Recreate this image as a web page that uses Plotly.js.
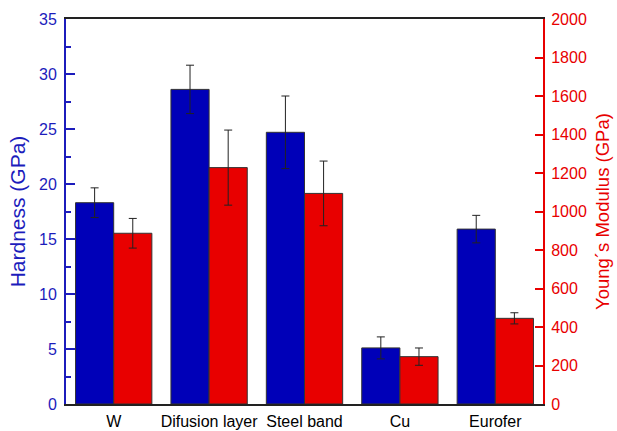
<!DOCTYPE html>
<html>
<head>
<meta charset="utf-8">
<script src="https://cdn.plot.ly/plotly-3.0.1.min.js"></script>
<style>html,body{margin:0;padding:0;background:#fff;}#chart{width:617px;height:431px;}</style>
</head>
<body>
<div id="chart"></div>
<script>
const categories = ["W", "Difusion layer", "Steel band", "Cu", "Eurofer"];
const hardness = [18.3, 28.6, 24.7, 5.1, 15.9];
const hardnessErr = [1.35, 2.2, 3.3, 1.0, 1.25];
const modulus = [887, 1228, 1094, 246, 445];
const modulusErr = [77, 195, 168, 45, 29];
const yTicks = [0, 5, 10, 15, 20, 25, 30, 35];
const y2Ticks = [0, 200, 400, 600, 800, 1000, 1200, 1400, 1600, 1800, 2000];

const idx = categories.map((c, i) => i);
const blue = "#0000b8";
const red = "#e80000";
const axisBlue = "#1c1cbc";
const font = "Liberation Sans, Arial, sans-serif";

const traces = [
  {
    type: "bar", x: idx, y: hardness, yaxis: "y", name: "Hardness",
    offset: -0.4, width: 0.4,
    marker: {color: blue, line: {color: "#333", width: 1}},
    error_y: {type: "data", array: hardnessErr, visible: true, color: "#222", thickness: 1, width: 4}
  },
  {
    type: "bar", x: idx, y: modulus, yaxis: "y2", name: "Young's Modulus",
    offset: 0, width: 0.4,
    marker: {color: red, line: {color: "#333", width: 1}},
    error_y: {type: "data", array: modulusErr, visible: true, color: "#222", thickness: 1, width: 4}
  }
];

const layout = {
  width: 617, height: 431,
  margin: {l: 66, r: 74, t: 19, b: 27},
  paper_bgcolor: "#fff", plot_bgcolor: "#fff",
  showlegend: false,
  font: {family: font, size: 16, color: "#000"},
  xaxis: {
    range: [-0.5, 4.5], tickvals: idx, ticktext: categories,
    showline: true, linecolor: "#222", linewidth: 2, mirror: true,
    ticks: "", showgrid: false, zeroline: false, automargin: false,
    ticklabelstandoff: 2,
    tickfont: {family: font, size: 16, color: "#000"}
  },
  yaxis: {
    range: [0, 35], tickvals: yTicks, showgrid: false, zeroline: false,
    showline: true, linecolor: axisBlue, linewidth: 2, automargin: false,
    ticks: "inside", ticklen: 9, tickwidth: 2, tickcolor: axisBlue,
    ticklabelstandoff: 4,
    minor: {dtick: 2.5, ticks: "inside", ticklen: 5, tickwidth: 2, tickcolor: axisBlue, showgrid: false},
    tickfont: {family: font, size: 16, color: axisBlue},
    title: {text: "Hardness (GPa)", font: {family: font, size: 21, color: axisBlue}, standoff: 8}
  },
  yaxis2: {
    range: [0, 2000], tickvals: y2Ticks, overlaying: "y", side: "right",
    showgrid: false, zeroline: false, automargin: false,
    showline: true, linecolor: red, linewidth: 2,
    ticks: "inside", ticklen: 8, tickwidth: 2, tickcolor: red,
    ticklabelstandoff: 3,
    tickfont: {family: font, size: 16, color: red},
    title: {text: "Young´s Modulus (GPa)", font: {family: font, size: 18.5, color: red}, standoff: 10}
  }
};

Plotly.newPlot("chart", traces, layout, {displayModeBar: false});
</script>
</body>
</html>
